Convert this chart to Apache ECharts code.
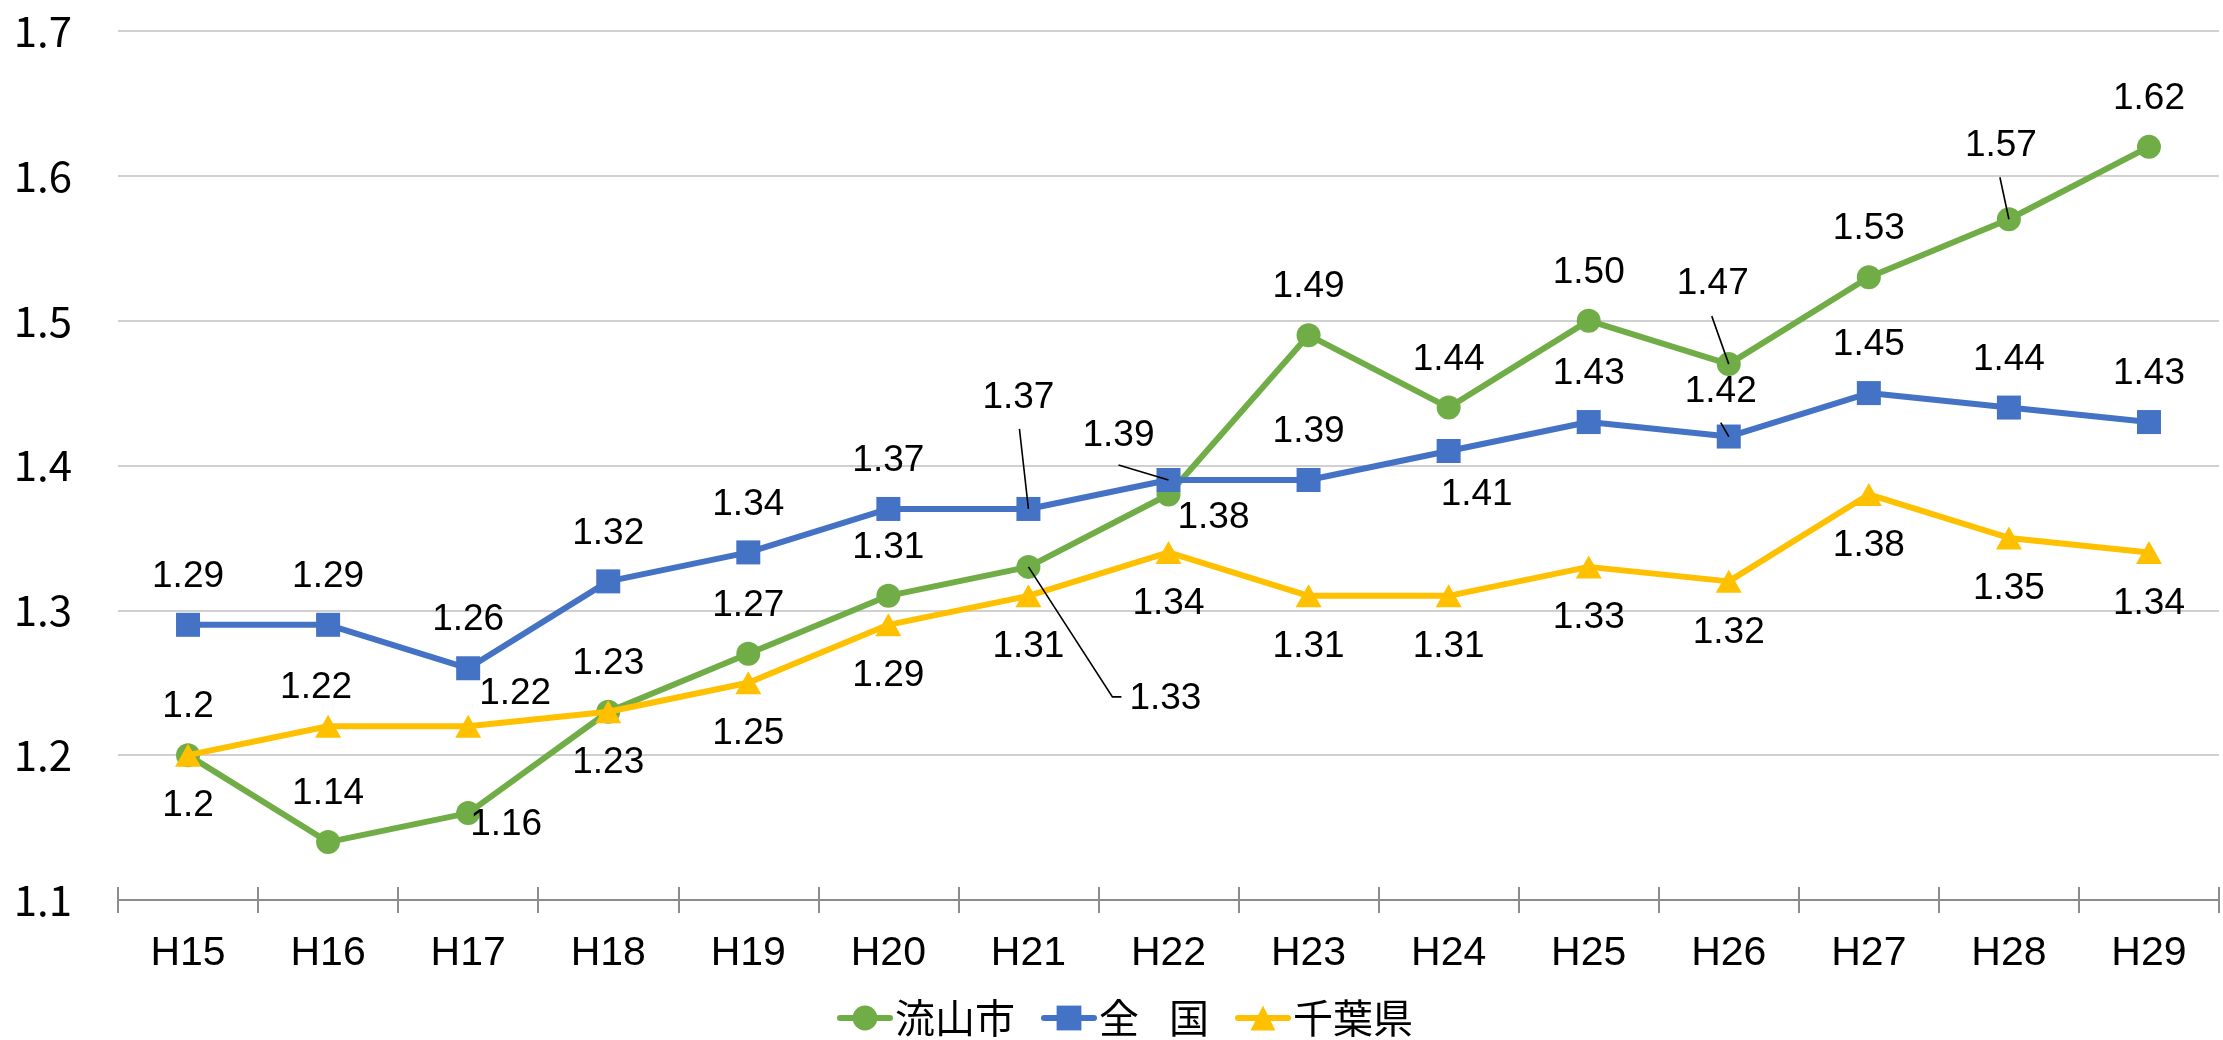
<!DOCTYPE html>
<html>
<head>
<meta charset="utf-8">
<script src="https://cdn.jsdelivr.net/npm/echarts@6/dist/echarts.min.js"></script>
<style>
  html, body { margin: 0; padding: 0; background: #fff; }
  #chart { width: 2223px; height: 1040px; }
</style>
</head>
<body>
<div id="chart"></div>
<script>
// 合計特殊出生率の推移（H15〜H29）
const years = ['H15', 'H16', 'H17', 'H18', 'H19', 'H20', 'H21', 'H22', 'H23', 'H24', 'H25', 'H26', 'H27', 'H28', 'H29'];
const seriesNames = ['流山市', '全\u2002\u2005国', '千葉県'];
const nagareyama = ['1.2', '1.14', '1.16', '1.23', '1.27', '1.31', '1.33', '1.38', '1.49', '1.44', '1.50', '1.47', '1.53', '1.57', '1.62'];
const zenkoku = ['1.29', '1.29', '1.26', '1.32', '1.34', '1.37', '1.37', '1.39', '1.39', '1.41', '1.43', '1.42', '1.45', '1.44', '1.43'];
const chiba = ['1.2', '1.22', '1.22', '1.23', '1.25', '1.29', '1.31', '1.34', '1.31', '1.31', '1.33', '1.32', '1.38', '1.35', '1.34'];
const yMin = 1.1;
const yMax = 1.7;
const yStep = 0.1;

// ---- styling / layout ----
const colors = ['#70AD47', '#4472C4', '#FFC000'];
const symbols = ['circle', 'rect', 'triangle'];
const symbolSizes = [24, 24, [26, 23]];
const LATIN = "'Liberation Sans', Arial, sans-serif";
const CJK = "'Noto Sans CJK JP', sans-serif";

// label placement relative to each marker (pixels)
const A = [0, -48], B = [0, 51];
const labelOffsets = [
  [B, A, [38, 12], A, A, A, [137, 132], [45, 23], A, A, A, [-16, -80], A, [-8, -73], A],
  [A, A, A, A, A, A, [-10, -111], [-50, -44], A, [28, 44], A, [-8, -45], A, A, A],
  [A, [-12, -38], [47, -32], B, B, B, B, B, B, B, B, B, B, B, B]
];
// leader lines from a moved label back to its marker (pixel offsets from the marker)
const leaders = [
  { s: 0, i: 6, pts: [[0, 0], [84, 130], [93, 130]] },
  { s: 0, i: 11, pts: [[-17, -48], [0, 0]] },
  { s: 0, i: 13, pts: [[-9, -42], [0, 0]] },
  { s: 1, i: 6, pts: [[-9, -80], [0, 0]] },
  { s: 1, i: 7, pts: [[-50, -15], [0, 0]] },
  { s: 1, i: 11, pts: [[-8, -14], [0, 0]] }
];

const rawSeries = [nagareyama, zenkoku, chiba];

function buildSeries(values, idx) {
  return {
    name: seriesNames[idx],
    type: 'line',
    data: values.map((v, i) => ({
      value: parseFloat(v),
      label: { offset: labelOffsets[idx][i] }
    })),
    symbol: symbols[idx],
    symbolSize: symbolSizes[idx],
    showAllSymbol: true,
    lineStyle: { color: colors[idx], width: 6 },
    itemStyle: { color: colors[idx] },
    label: {
      show: true,
      position: 'inside',
      color: '#000',
      textBorderWidth: 0,
      fontFamily: LATIN,
      fontSize: 37,
      formatter: p => values[p.dataIndex]
    },
    emphasis: { disabled: true },
    animation: false,
    z: 2 + idx
  };
}

const chart = echarts.init(document.getElementById('chart'), null, { renderer: 'canvas' });

const option = {
  backgroundColor: '#ffffff',
  animation: false,
  grid: { left: 118, right: 4, top: 31, bottom: 140, outerBoundsMode: 'none' },
  legend: {
    data: seriesNames,
    left: 832,
    top: 993,
    itemWidth: 50,
    itemHeight: 31,
    itemGap: 26,
    lineStyle: { width: 6, cap: 'round' },
    textStyle: { fontFamily: CJK, fontSize: 40, color: '#000' }
  },
  xAxis: [
    {
      type: 'category',
      data: years,
      position: 'bottom',
      boundaryGap: true,
      axisLine: { show: true, lineStyle: { color: '#8C8C8C', width: 2 } },
      axisTick: { show: true, length: 13, interval: 0, lineStyle: { color: '#8C8C8C', width: 2 } },
      axisLabel: { fontFamily: LATIN, fontSize: 41, color: '#000', margin: 33, interval: 0 }
    },
    {
      type: 'category',
      data: years,
      position: 'bottom',
      boundaryGap: true,
      axisLine: { show: false },
      axisTick: { show: true, inside: true, length: 13, interval: 0, lineStyle: { color: '#8C8C8C', width: 2 } },
      axisLabel: { show: false }
    }
  ],
  yAxis: {
    type: 'value',
    min: yMin,
    max: yMax,
    interval: yStep,
    axisLine: { show: false },
    axisTick: { show: false },
    splitLine: { lineStyle: { color: '#D0D0D0', width: 2 } },
    axisLabel: {
      fontFamily: CJK,
      fontSize: 42,
      color: '#000',
      margin: 46,
      formatter: v => v.toFixed(1)
    }
  },
  series: rawSeries.map(buildSeries)
};

chart.setOption(option);

// leader lines, positioned through the chart's own coordinate system
function drawLeaders() {
  const elements = leaders.map(l => {
    const c = chart.convertToPixel({ seriesIndex: l.s }, [l.i, parseFloat(rawSeries[l.s][l.i])]);
    return {
      type: 'polyline',
      z: 100,
      silent: true,
      shape: { points: l.pts.map(p => [c[0] + p[0], c[1] + p[1]]) },
      style: { stroke: '#000', lineWidth: 1.6, fill: null }
    };
  });
  chart.setOption({ graphic: elements });
}
drawLeaders();
</script>
</body>
</html>
